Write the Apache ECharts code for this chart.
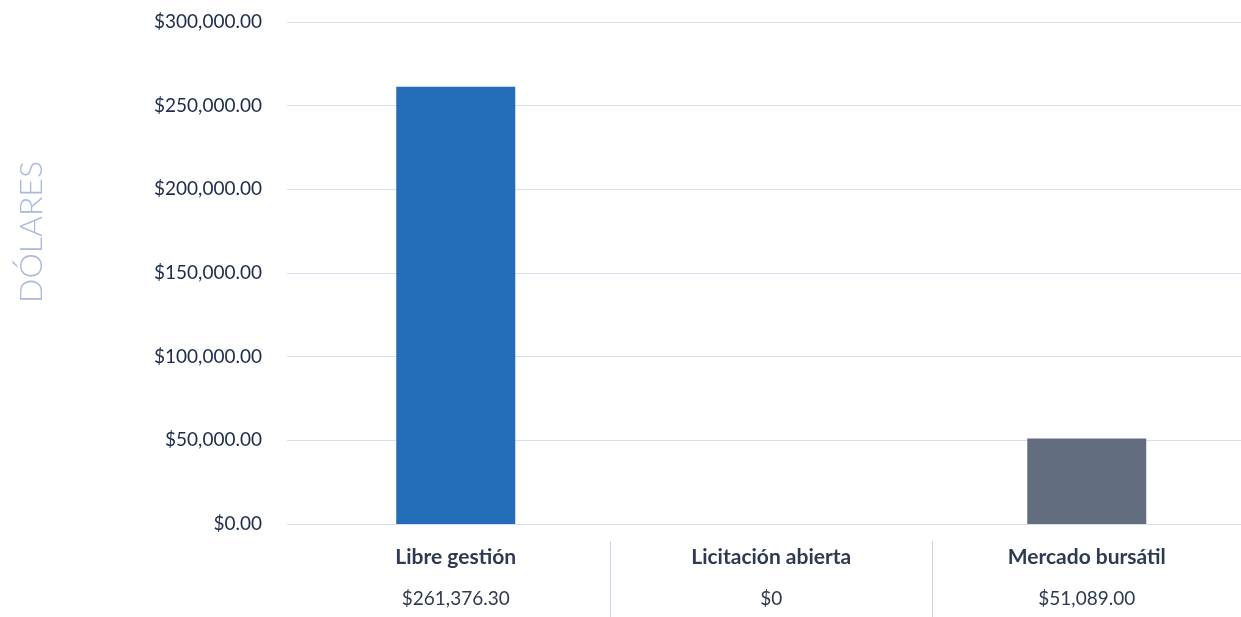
<!DOCTYPE html>
<html>
<head>
<meta charset="utf-8">
<script src="https://cdn.jsdelivr.net/npm/echarts@6/dist/echarts.min.js"></script>
<style>
html,body{margin:0;padding:0;background:#fff;}
#chart{width:1241px;height:617px;}
</style>
</head>
<body>
<div id="chart"></div>
<script>
const categories = ['Libre gestión', 'Licitación abierta', 'Mercado bursátil'];
const values = [261376.30, 0, 51089.00];
const valueLabels = ['$261,376.30', '$0', '$51,089.00'];
const barColors = ['#236cb7', '#2f7abf', '#636d80'];
const yTicks = [0, 50000, 100000, 150000, 200000, 250000, 300000];
const yTickLabels = ['$0.00', '$50,000.00', '$100,000.00', '$150,000.00', '$200,000.00', '$250,000.00', '$300,000.00'];
const yTitle = 'DÓLARES';

const yMin = yTicks[0], yMax = yTicks[yTicks.length - 1], yStep = yTicks[1] - yTicks[0];
const font = 'Lato, "Open Sans", sans-serif';

const chart = echarts.init(document.getElementById('chart'), null, {renderer: 'canvas'});
chart.setOption({
  animation: false,
  backgroundColor: '#ffffff',
  graphic: [{
    type: 'text',
    left: 16,
    top: 161,
    rotation: Math.PI / 2,
    style: {
      text: yTitle,
      fontFamily: font,
      fontSize: 32,
      fontWeight: 300,
      fill: '#a9badb'
    }
  }],
  grid: [
    {left: 287, right: 0, top: 22, bottom: 93, containLabel: false, outerBoundsMode: 'none'},
    {left: 298, width: 946.5, top: 22, bottom: 93, containLabel: false, outerBoundsMode: 'none'},
    {left: 288, width: 966, top: 541, bottom: 0, containLabel: false, outerBoundsMode: 'none'}
  ],
  xAxis: [
    {gridIndex: 0, type: 'category', data: categories, show: false},
    {
      gridIndex: 1, type: 'category', data: categories,
      offset: 17,
      axisLine: {show: false},
      axisTick: {show: false},
      axisLabel: {
        margin: 0,
        interval: 0,
        formatter: function (v, i) { return '{n|' + v + '}\n{v|' + valueLabels[i] + '}'; },
        rich: {
          n: {fontFamily: font, fontSize: 21, fontWeight: 'bold', color: '#2e3a4f', lineHeight: 32},
          v: {fontFamily: font, fontSize: 19, color: '#2e3a4f', lineHeight: 52}
        }
      }
    },
    {
      gridIndex: 2, type: 'category', data: categories,
      axisLine: {show: false}, axisTick: {show: false}, axisLabel: {show: false},
      splitLine: {show: true, interval: function (i) { return i > 0; },
                  lineStyle: {color: '#c9d7ea', width: 1}}
    }
  ],
  yAxis: [
    {
      gridIndex: 0, type: 'value', min: yMin, max: yMax, interval: yStep,
      axisLine: {show: false}, axisTick: {show: false},
      axisLabel: {
        margin: 25,
        fontFamily: font, fontSize: 19, color: '#1d2c4c',
        formatter: function (v) { return yTickLabels[yTicks.indexOf(v)]; }
      },
      splitLine: {show: true, lineStyle: {color: '#d7e1ee', width: 1}}
    },
    {
      gridIndex: 1, type: 'value', min: yMin, max: yMax, interval: yStep,
      show: false, splitLine: {show: false}
    },
    {
      gridIndex: 2, type: 'value', show: false, splitLine: {show: false}
    }
  ],
  series: [{
    type: 'bar',
    xAxisIndex: 1, yAxisIndex: 1,
    barWidth: 119,
    data: values.map(function (v, i) { return {value: v, itemStyle: {color: barColors[i]}}; })
  }]
});
</script>
</body>
</html>
